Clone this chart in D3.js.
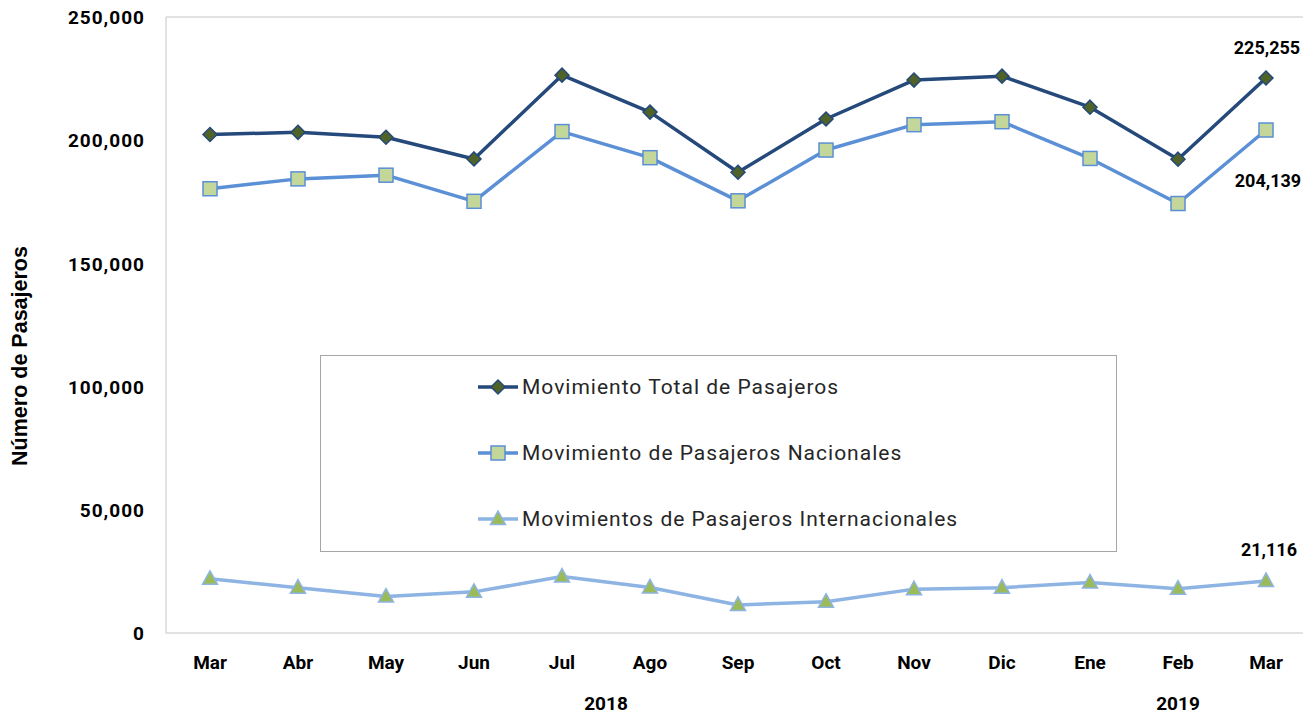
<!DOCTYPE html>
<html><head><meta charset="utf-8">
<script src="https://cdn.jsdelivr.net/npm/d3@7"></script>
<style>body{margin:0;background:#fff}svg{display:block}</style>
</head><body><svg id="c" width="1303" height="714"></svg>
<script>
const months = ["Mar","Abr","May","Jun","Jul","Ago","Sep","Oct","Nov","Dic","Ene","Feb","Mar"];
const years = [{label:"2018", idx:[0,9]}, {label:"2019", idx:[10,12]}];
const seriesNames = ["Movimiento Total de Pasajeros","Movimiento de Pasajeros Nacionales","Movimientos de Pasajeros Internacionales"];
const total = [202300,203200,201200,192400,226400,211400,187000,208600,224400,226000,213400,192300,225255];
const nacional = [180300,184300,185800,175200,203500,192900,175400,196000,206300,207500,192600,174300,204139];
const internacional = [22000,18400,14800,16700,22900,18500,11400,12700,17800,18400,20500,18000,21116];
const yTicks = [0,50000,100000,150000,200000,250000];

const svg = d3.select("#c");
const L=166, R=1310, T=17, B=633;
const x = d3.scaleBand().domain(d3.range(months.length)).range([L,R]);
const y = d3.scaleLinear().domain([0,250000]).range([B,T]);
const cx = i => x(i)+x.bandwidth()/2;
const fmt = d3.format(",");
const FONT = "Roboto, sans-serif";

// plot border
svg.append("path").attr("d",`M${L},${T}H1303M${L},${T}V${B}H1303`).attr("fill","none").attr("stroke","#d9d9d9").attr("stroke-width",1.5);

// y axis labels
const yAxis = d3.axisLeft(y).tickValues(yTicks).tickFormat(fmt).tickSize(0).tickPadding(0);
const ya = svg.append("g").attr("transform",`translate(145,0)`).call(yAxis);
ya.select(".domain").remove();
ya.selectAll("text").attr("font-family",FONT).attr("font-weight","700").attr("font-size","19px").attr("letter-spacing","1px").attr("fill","#000").attr("dy","0.35em");

// x axis labels
const xAxis = d3.axisBottom(x).tickFormat(i=>months[i]).tickSize(0).tickPadding(0);
const xa = svg.append("g").attr("transform",`translate(0,662)`).call(xAxis);
xa.select(".domain").remove();
xa.selectAll("text").attr("font-family",FONT).attr("font-weight","700").attr("font-size","19px").attr("fill","#000").attr("dy","0.35em");

// years
const yearPos = years.map(yr=>({label:yr.label, x:(cx(yr.idx[0])+cx(yr.idx[1]))/2}));
svg.selectAll(".yr").data(yearPos).join("text").attr("x",d=>d.x).attr("y",703).attr("dy","0.35em")
  .attr("text-anchor","middle").attr("font-family",FONT).attr("font-weight","700").attr("font-size","19px").text(d=>d.label);

// y title
svg.append("text").attr("transform","translate(27,356) rotate(-90)").attr("text-anchor","middle")
  .attr("font-family","Liberation Sans, Arial, sans-serif").attr("font-weight","700").attr("font-size","21.5px").attr("fill","#000").text("Número de Pasajeros");

// legend box
svg.append("rect").attr("x",320.5).attr("y",355.5).attr("width",796).attr("height",196).attr("fill","#fff").attr("stroke","#a6a6a6").attr("stroke-width",1);

const styles = [
  {data:total, line:"#24497a", fill:"#4f6228", stroke:"#24497a", shape:"diamond"},
  {data:nacional, line:"#5b8fd6", fill:"#c4d79b", stroke:"#5b8fd6", shape:"square"},
  {data:internacional, line:"#8db4e2", fill:"#9bbb59", stroke:"#8db4e2", shape:"triangle"}
];
function marker(g, shape, fill, stroke){
  if(shape==="diamond") g.append("path").attr("d","M0,-7L7,0L0,7L-7,0Z").attr("fill",fill).attr("stroke",stroke).attr("stroke-width",1.5);
  else if(shape==="square") g.append("rect").attr("x",-7).attr("y",-7).attr("width",14).attr("height",14).attr("fill",fill).attr("stroke",stroke).attr("stroke-width",1.5);
  else g.append("path").attr("d","M0,-8L7.5,5.5L-7.5,5.5Z").attr("fill",fill).attr("stroke",stroke).attr("stroke-width",1.5);
}
const line = d3.line().x((d,i)=>cx(i)).y(d=>y(d));
styles.forEach(s=>{
  svg.append("path").attr("d",line(s.data)).attr("fill","none").attr("stroke",s.line).attr("stroke-width",3.5).attr("stroke-linejoin","round");
  s.data.forEach((v,i)=>{
    const g = svg.append("g").attr("transform",`translate(${cx(i)},${y(v)})`);
    marker(g,s.shape,s.fill,s.stroke);
  });
});

// legend items
const legY=[387,453,519];
styles.forEach((s,k)=>{
  svg.append("line").attr("x1",478).attr("x2",518).attr("y1",legY[k]).attr("y2",legY[k]).attr("stroke",s.line).attr("stroke-width",3.5);
  const g = svg.append("g").attr("transform",`translate(498,${legY[k]})`);
  marker(g,s.shape,s.fill,s.stroke);
  svg.append("text").attr("x",522).attr("y",legY[k]).attr("dy","0.35em").attr("font-family",FONT)
    .attr("font-size","21px").attr("letter-spacing","1px").attr("fill","#262626").text(seriesNames[k]);
});

// data labels
const last = months.length-1;
const lbls = [
  {v:total[last], dx:1, y:y(total[last])-30},
  {v:nacional[last], dx:2, y:y(nacional[last])+51},
  {v:internacional[last], dx:3, y:y(internacional[last])-31}
];
lbls.forEach(l=>{
  svg.append("text").attr("x",cx(last)+l.dx).attr("y",l.y).attr("dy","0.35em").attr("text-anchor","middle")
    .attr("font-family",FONT).attr("font-weight","700").attr("font-size","18px").attr("fill","#000").text(fmt(l.v));
});
</script></body></html>
